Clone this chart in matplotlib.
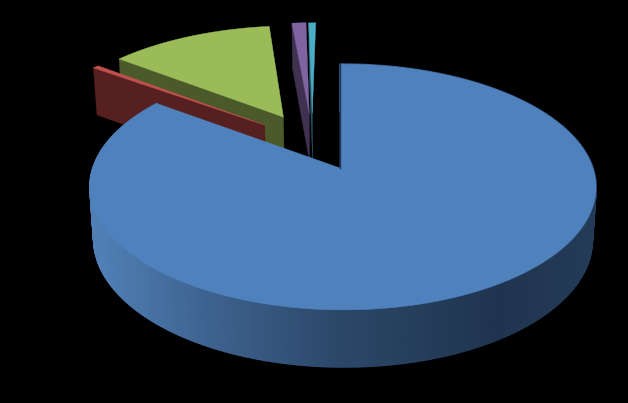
import numpy as np
import matplotlib
matplotlib.use('Agg')
import matplotlib.pyplot as plt
from matplotlib.collections import PolyCollection
from matplotlib.colors import to_rgb

# slice shares in percent, clockwise from twelve o'clock
names = ['blue', 'red', 'green', 'purple', 'teal']
values = [85.05, 0.47, 12.8, 1.1, 0.55]

top_colors = ['#4f81bd', '#c0504d', '#9bbb59', '#8064a2', '#4bacc6']
wall_colors = ['#1f3a5c', '#562020', '#4a5a2a', '#403151', '#255663']

# explosion of each slice on the pie plane (sideways, backwards)
explode = [(0, 0), (-0.316, 0.379), (-0.24, 0.455), (-0.131, 0.493), (-0.118, 0.49)]
# sideways stretch of each slice
stretch = [0.988, 1.015, 1, 1, 1]

# perspective of the pie plane
X0, Y0 = 340, 168
A, K = 253, 120
P, Q = 0.1545, -0.012
DEPTH = 57


def top_point(u, v):
    w = 1 + P * v + Q * u
    return X0 + A * u / w, Y0 - K * v / w


def bottom_point(u, v):
    x, y = top_point(u, v)
    w = 1 + P * v + Q * u
    depth = DEPTH * (0.8455 / w) ** 0.6
    return X0 + (x - X0) * 0.985, y + depth


def rim(theta, off, sx=1):
    return off[0] + sx * np.sin(theta), off[1] + np.cos(theta)


shares = np.array(values) / sum(values) * 2 * np.pi
starts = np.concatenate([[0], np.cumsum(shares)[:-1]])

fig, ax = plt.subplots(figsize=(6.28, 4.03), dpi=100)
fig.subplots_adjust(0, 0, 1, 1)
fig.patch.set_facecolor('black')
ax.set_facecolor('black')
ax.set_xlim(0, 628)
ax.set_ylim(403, 0)
ax.axis('off')

# small slices first, red over green, blue goes over all of them
for z, i in enumerate([2, 3, 4, 1]):
    off = explode[i]
    t0, t1 = starts[i], starts[i] + shares[i]
    u, v = rim(t0, off, stretch[i])
    wall = [top_point(*off), top_point(u, v), bottom_point(u, v), bottom_point(*off)]
    ax.fill(*zip(*wall), color=wall_colors[i], lw=0.3, zorder=2 + 2 * z)
    arc = [top_point(*rim(t, off, stretch[i])) for t in np.linspace(t0, t1, 30)]
    face = [top_point(*off)] + arc
    ax.fill(*zip(*face), color=top_colors[i], lw=0.3, zorder=3 + 2 * z)

# blue outer wall, shaded by x position
shade_x = [90, 100, 200, 340, 500, 590, 600]
shade_c = ['#4f7fb5', '#4f7fb5', '#3f6491', '#2b4768', '#1f344e', '#243b58', '#243b58']
shade_rgb = np.array([to_rgb(c) for c in shade_c])

off = explode[0]
thetas = np.linspace(starts[0], shares[0], 300)
quads, cols = [], []
for a, b in zip(thetas[:-1], thetas[1:]):
    ua, va = rim(a, off, stretch[0])
    ub, vb = rim(b, off, stretch[0])
    q = [top_point(ua, va), top_point(ub, vb), bottom_point(ub, vb), bottom_point(ua, va)]
    quads.append(q)
    xm = (q[0][0] + q[1][0]) / 2
    cols.append([np.interp(xm, shade_x, shade_rgb[:, k]) for k in range(3)])
ax.add_collection(PolyCollection(quads, facecolors=cols, edgecolors=cols, linewidths=1.2, zorder=20))

arc = [top_point(*rim(t, off, stretch[0])) for t in thetas]
face = [top_point(*off)] + arc
ax.fill(*zip(*face), color=top_colors[0], lw=0.3, zorder=21)

# thin dark edge on the cut at twelve o'clock
edge = [top_point(*off), top_point(*rim(0, off, stretch[0]))]
ax.plot(*zip(*edge), color=wall_colors[0], lw=1.0, zorder=22)

fig.savefig('out.png', dpi=100, facecolor='black')
